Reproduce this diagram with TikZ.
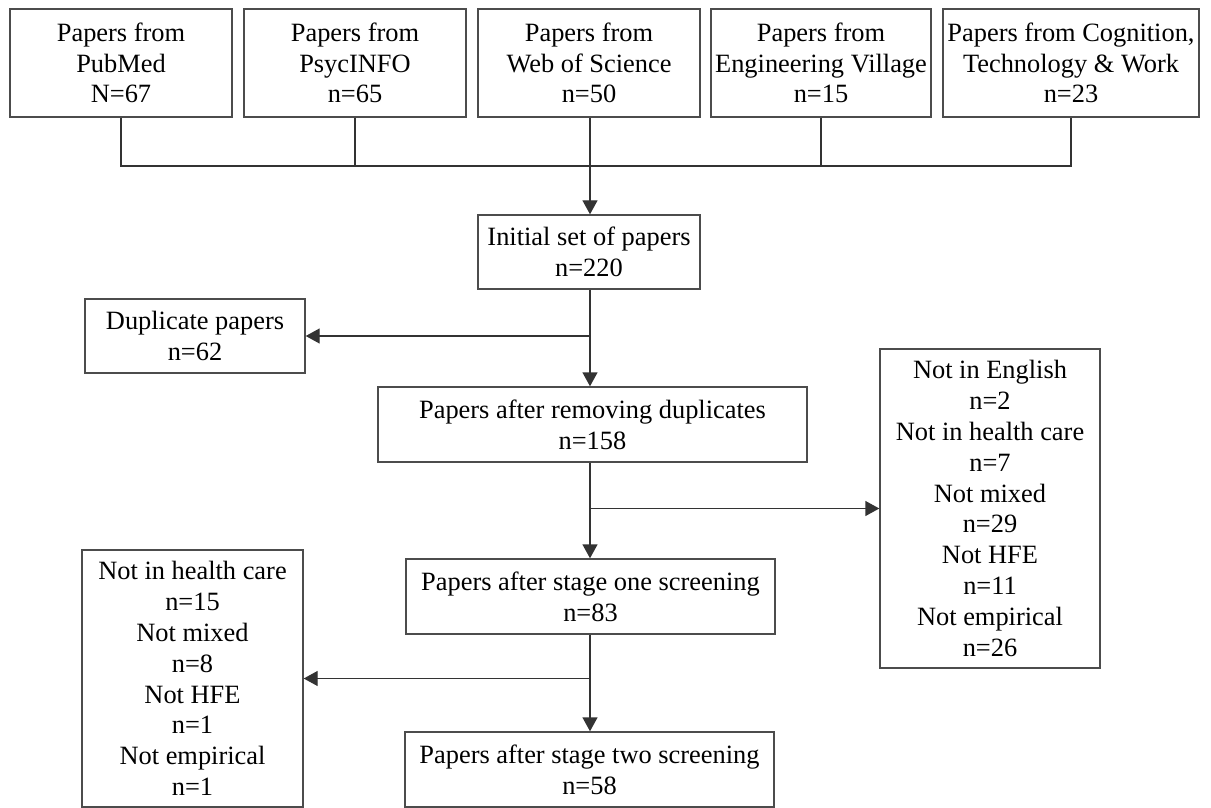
\documentclass[tikz,border=0pt]{standalone}
\usepackage{fontspec}
\setmainfont{Liberation Serif}
\usetikzlibrary{arrows.meta}
\begin{document}
\begin{tikzpicture}[x=0.5pt,y=-0.5pt,
  box/.style={draw=black!70, line width=0.7pt, rectangle, inner sep=0pt, align=center,
    font=\fontsize{13.2pt}{15.4pt}\selectfont},
  conn/.style={draw=black!80, line width=0.7pt},
  arr/.style={conn, -{Triangle[length=7pt,width=7.5pt]}}]
\useasboundingbox (0,0) rectangle (1211,808);
% top sources
\node[box, minimum width=111pt, minimum height=54pt] (b1) at (121,63) {Papers from\\PubMed\\N=67};
\node[box, minimum width=111pt, minimum height=54pt] (b2) at (355,63) {Papers from\\PsycINFO\\n=65};
\node[box, minimum width=111pt, minimum height=54pt] (b3) at (589,63) {Papers from\\Web of Science\\n=50};
\node[box, minimum width=110pt, minimum height=54pt] (b4) at (821,63) {Papers from\\Engineering Village\\n=15};
\node[box, minimum width=128pt, minimum height=54pt] (b5) at (1071,63) {Papers from Cognition,\\Technology \& Work\\n=23};
% main column
\node[box, minimum width=111pt, minimum height=37pt] (init) at (589,252) {Initial set of papers\\n=220};
\node[box, minimum width=110pt, minimum height=37pt] (dup) at (195,336) {Duplicate papers\\n=62};
\node[box, minimum width=214.5pt, minimum height=37.5pt] (rem) at (592.5,424.5) {Papers after removing duplicates\\n=158};
\node[box, minimum width=110pt, minimum height=159.5pt] (ex1) at (990,508.5) {Not in English\\n=2\\Not in health care\\n=7\\Not mixed\\n=29\\Not HFE\\n=11\\Not empirical\\n=26};
\node[box, minimum width=184.5pt, minimum height=37.5pt] (s1) at (590.5,596.5) {Papers after stage one screening\\n=83};
\node[box, minimum width=110.5pt, minimum height=128.5pt] (ex2) at (192.5,678.5) {Not in health care\\n=15\\Not mixed\\n=8\\Not HFE\\n=1\\Not empirical\\n=1};
\node[box, minimum width=184.5pt, minimum height=37.5pt] (s2) at (589.5,769.5) {Papers after stage two screening\\n=58};
% merge of sources
\coordinate (hj) at (590,166);
\draw[conn] (b1.south) |- (hj) -| (b5.south);
\draw[conn] (b2.south) -- (b2.south |- hj);
\draw[conn] (b4.south) -- (b4.south |- hj);
\draw[arr] (b3.south -| hj) -- (init.north -| hj);
% initial -> removed / duplicates
\draw[arr] (init.south -| hj) -- (rem.north -| hj);
\draw[arr] (hj |- dup.east) -- (dup.east);
% removed -> stage one / exclusions
\draw[arr] (rem.south -| hj) -- (s1.north -| hj);
\draw[arr] (hj |- ex1.west) -- (ex1.west);
% stage one -> stage two / exclusions
\draw[arr] (s1.south -| hj) -- (s2.north -| hj);
\draw[arr] (hj |- ex2.east) -- (ex2.east);
\end{tikzpicture}
\end{document}
